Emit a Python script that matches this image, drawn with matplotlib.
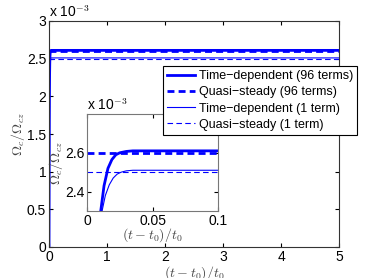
import matplotlib.pyplot as plt

plt.rcParams['font.family'] = ['Liberation Sans', 'DejaVu Sans']
plt.rcParams['mathtext.fontset'] = 'cm'

# values in units of 1e-3
t_td96 = [0, 0.002, 0.004, 0.006, 0.008, 0.0105, 0.013, 0.016, 0.019, 0.022,
          0.025, 0.03, 0.035, 0.05, 0.1, 1, 5]
w_td96 = [0, 0.6, 1.2, 1.7, 2.05, 2.3, 2.43, 2.52, 2.565, 2.59,
          2.60, 2.607, 2.61, 2.61, 2.61, 2.61, 2.61]
t_td1 = [0, 0.002, 0.004, 0.006, 0.008, 0.0115, 0.014, 0.017, 0.02, 0.023,
         0.026, 0.03, 0.035, 0.05, 0.1, 1, 5]
w_td1 = [0, 0.5, 1.05, 1.55, 1.95, 2.3, 2.38, 2.435, 2.47, 2.49,
         2.50, 2.507, 2.51, 2.51, 2.51, 2.51, 2.51]
t_qs = [0, 5]
w_qs96 = [2.6, 2.6]
w_qs1 = [2.5, 2.5]

blue = (0, 0, 1)

fig = plt.figure(figsize=(3.74, 2.78), dpi=100)
ax = fig.add_axes([49 / 374, 1 - 247 / 278, 290 / 374, 226 / 278])

l1, = ax.plot(t_td96, w_td96, color=blue, lw=2, label='Time\u2212dependent (96 terms)')
l2, = ax.plot(t_qs, w_qs96, color=blue, lw=2, ls=(0, (2.5, 1.5)), label='Quasi\u2212steady (96 terms)')
l3, = ax.plot(t_td1, w_td1, color=blue, lw=0.8, label='Time\u2212dependent (1 term)')
l4, = ax.plot(t_qs, w_qs1, color=blue, lw=0.8, ls=(0, (5, 3)), label='Quasi\u2212steady (1 term)')

ax.set_xlim(0, 5)
ax.set_ylim(0, 3)
ax.set_xticks([0, 1, 2, 3, 4, 5])
ax.set_yticks([0, 0.5, 1, 1.5, 2, 2.5, 3])
ax.set_yticklabels(['0', '0.5', '1', '1.5', '2', '2.5', '3'])
ax.tick_params(direction='in', top=True, right=True, labelsize=10, length=3, pad=2)
ax.set_xlabel(r'$(t-t_0)/t_0$', fontsize=10, color='#444444', labelpad=0)
ax.set_ylabel(r'$\Omega_c/\Omega_{cz}$', fontsize=10, color='#444444', labelpad=0)
ax.text(0, 1.005, r'x 10$^{-3}$', transform=ax.transAxes, fontsize=10, va='bottom', ha='left')
for s in ax.spines.values():
    s.set_color('#333333')

# inset
ins = fig.add_axes([87 / 374, 1 - 211 / 278, 131 / 374, 97 / 278])
ins.plot(t_td96, w_td96, color=blue, lw=2)
ins.plot(t_qs, w_qs96, color=blue, lw=2, ls=(0, (2.5, 1.5)))
ins.plot(t_td1, w_td1, color=blue, lw=0.8)
ins.plot(t_qs, w_qs1, color=blue, lw=0.8, ls=(0, (5, 3)))
ins.set_xlim(0, 0.1)
ins.set_ylim(2.3, 2.8)
ins.set_xticks([0, 0.05, 0.1])
ins.set_xticklabels(['0', '0.05', '0.1'])
ins.set_yticks([2.4, 2.6])
ins.tick_params(direction='in', top=True, right=True, labelsize=10, length=3, pad=2)
ins.set_xlabel(r'$(t-t_0)/t_0$', fontsize=10, color='#444444', labelpad=-1)
ins.set_ylabel(r'$\Omega_c/\Omega_{cz}$', fontsize=10, color='#444444', labelpad=0)
ins.text(0, 1.01, r'x 10$^{-3}$', transform=ins.transAxes, fontsize=10, va='bottom', ha='left')
for s in ins.spines.values():
    s.set_color('#777777')

leg = fig.legend(handles=[l1, l2, l3, l4], loc='upper left',
                 bbox_to_anchor=(163 / 374, 1 - 66 / 278), fontsize=9,
                 frameon=True, fancybox=False, edgecolor='black', framealpha=1,
                 borderpad=0.35, labelspacing=0.33, handlelength=2.2, handletextpad=0.3,
                 borderaxespad=0)
leg.get_frame().set_linewidth(0.8)
leg.set_zorder(10)

plt.savefig('out.png', dpi=100)
